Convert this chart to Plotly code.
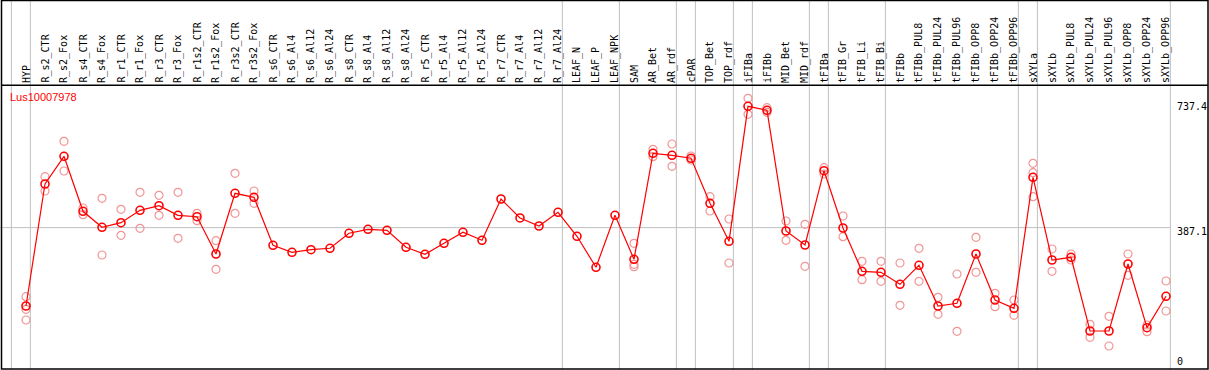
import plotly.graph_objects as go

W, H = 1209, 370

categories = ["HYP", "R_s2_CTR", "R_s2_Fox", "R_s4_CTR", "R_s4_Fox", "R_r1_CTR", "R_r1_Fox",
              "R_r3_CTR", "R_r3_Fox", "R_r1s2_CTR", "R_r1s2_Fox", "R_r3s2_CTR", "R_r3s2_Fox",
              "R_s6_CTR", "R_s6_Al4", "R_s6_Al12", "R_s6_Al24", "R_s8_CTR", "R_s8_Al4",
              "R_s8_Al12", "R_s8_Al24", "R_r5_CTR", "R_r5_Al4", "R_r5_Al12", "R_r5_Al24",
              "R_r7_CTR", "R_r7_Al4", "R_r7_Al12", "R_r7_Al24", "LEAF_N", "LEAF_P", "LEAF_NPK",
              "SAM", "AR_Bet", "AR_rdf", "cPAR", "TOP_Bet", "TOP_rdf", "iFIBa", "iFIBb",
              "MID_Bet", "MID_rdf", "tFIBa", "tFIB_Gr", "tFIB_Li", "tFIB_Bi", "tFIBb",
              "tFIBb_PUL8", "tFIBb_PUL24", "tFIBb_PUL96", "tFIBb_OPP8", "tFIBb_OPP24",
              "tFIBb_OPP96", "sXYLa", "sXYLb", "sXYLb_PUL8", "sXYLb_PUL24", "sXYLb_PUL96",
              "sXYLb_OPP8", "sXYLb_OPP24", "sXYLb_OPP96"]

mean_values = [172.9, 506.2, 581.9, 431.7, 387.9, 400.5, 434.4, 447.0, 420.7, 416.9, 315.0,
               480.8, 469.9, 338.8, 319.6, 326.7, 330.6, 371.6, 382.5, 379.7, 333.3, 314.2,
               344.2, 374.3, 352.4, 465.3, 413.4, 391.5, 428.9, 363.4, 278.7, 420.7,
               300.5, 590.1, 584.6, 576.5, 453.5, 349.7, 718.5, 707.6, 377.8, 339.6, 542.6,
               386.0, 267.7, 265.0, 232.2, 284.1, 172.9, 180.3, 315.0, 189.3, 166.7,
               524.5, 298.6, 306.0, 104.6, 104.6, 287.7, 113.7, 199.4]

rep_a = [198.3, 526.2, 622.9, 440.7, 467.2, 437.1, 483.6, 475.4, 483.6, 426.2, 351.3,
         535.5, 487.1, None, None, None, None, None, None, None, None, None,
         None, None, None, None, None, None, None, None, None, None,
         344.2, 601.0, 615.5, 582.7, 471.5, 410.6, 740.4, 714.7, 405.2, 396.1, 550.8,
         418.8, 295.1, 295.1, 290.4, 330.6, 196.7, 260.4, 360.6, 207.6, 189.3,
         562.8, 328.7, 315.0, 122.9, 144.8, 315.0, 121.0, 241.2]

rep_b = [163.9, 487.1, 541.8, 422.4, 312.3, 366.1, 385.2, 420.7, 357.9, 406.0, 273.2,
         426.2, 453.5, None, None, None, None, None, None, None, None, None,
         None, None, None, None, None, None, None, None, None, None,
         286.9, 580.8, 554.6, 571.8, 432.5, 290.4, 696.7, 702.1, 352.4, 281.4, 533.6,
         362.3, 244.8, 240.4, 174.8, 240.4, 150.3, 103.8, 265.0, 171.0, 147.5,
         537.1, 267.7, 298.6, 87.4, 63.7, 256.8, 102.7, 159.3]

rep_c = [134.7, None, None, None, None, None, None, None, None, None, None,
         None, None, None, None, None, None, None, None, None, None, None,
         None, None, None, None, None, None, None, None, None, None,
         280.3, None, None, None, None, None, None, None, None, None, None,
         None, None, None, None, None, None, None, None, None, None,
         471.5, None, None, None, None, None, None, None]

separator_after = [-1, 0, 28, 31, 34, 35, 37, 38, 41, 42, 45, 52, 53, 60]
y_tick_values = [737.4, 387.1, 0]
y_tick_labels = ["737.4", "387.1", "0"]
gene_name = "Lus10007978"

# pixel geometry
X0, DX = 26.0, 19.0           # pixel x of first category, spacing
x_lo = (0 - X0) / DX
x_hi = (W - X0) / DX
Y_ZERO_PX, PX_PER = 369.3, 1 / 2.732
y_lo = (Y_ZERO_PX - H) / PX_PER
y_hi = Y_ZERO_PX / PX_PER

xs = list(range(len(categories)))

fig = go.Figure()

rep_color = "rgb(240,150,150)"
for reps in (rep_a, rep_b, rep_c):
    fig.add_trace(go.Scatter(
        x=xs, y=reps, mode="markers",
        marker=dict(symbol="circle-open", size=8, color=rep_color, line=dict(width=1.2, color=rep_color)),
        showlegend=False, hoverinfo="skip"))

fig.add_trace(go.Scatter(
    x=xs, y=mean_values, mode="lines+markers",
    line=dict(color="rgb(255,0,0)", width=1.2),
    marker=dict(symbol="circle-open", size=8, color="rgb(255,0,0)", line=dict(width=1.6, color="rgb(255,0,0)")),
    showlegend=False, hoverinfo="skip"))

shapes = []
gray = "rgb(192,192,192)"
for s in separator_after:
    shapes.append(dict(type="line", xref="x", yref="paper", x0=s + 0.23, x1=s + 0.23, y0=0, y1=1,
                       line=dict(color=gray, width=1), layer="below"))
shapes.append(dict(type="line", xref="x", yref="y", x0=x_lo, x1=separator_after[-1] + 0.23,
                   y0=y_tick_values[1], y1=y_tick_values[1], line=dict(color=gray, width=1), layer="below"))

def py(p):
    return 1 - p / H

def px(p):
    return p / W

black = "black"
# frame
shapes.append(dict(type="rect", xref="paper", yref="paper", x0=px(1.5), x1=px(1208), y0=py(369), y1=py(0.5),
                   line=dict(color=black, width=1.5)))
shapes.append(dict(type="line", xref="paper", yref="paper", x0=px(1.5), x1=px(1208), y0=py(85.3), y1=py(85.3),
                   line=dict(color=black, width=1.5)))

annotations = []
for i, c in enumerate(categories):
    annotations.append(dict(x=i, y=py(84), xref="x", yref="paper", text=c, textangle=-90,
                            showarrow=False, xanchor="center", yanchor="bottom",
                            font=dict(family="DejaVu Sans Mono", size=10, color="black"),
                            borderpad=0))

label_centers = [106.7, 231.7, 361.7]
for lab, cy in zip(y_tick_labels, label_centers):
    annotations.append(dict(x=px(1175.5), y=py(cy), xref="paper", yref="paper", text=lab,
                            showarrow=False, xanchor="left", yanchor="middle",
                            font=dict(family="DejaVu Sans Mono", size=10, color="black"), borderpad=0))

annotations.append(dict(x=px(9), y=py(96.7), xref="paper", yref="paper", text=gene_name,
                        showarrow=False, xanchor="left", yanchor="middle",
                        font=dict(family="Liberation Sans", size=11, color="red"), borderpad=0))

fig.update_layout(
    width=W, height=H, margin=dict(l=0, r=0, t=0, b=0),
    paper_bgcolor="white", plot_bgcolor="white",
    xaxis=dict(range=[x_lo, x_hi], visible=False, fixedrange=True),
    yaxis=dict(range=[y_lo, y_hi], visible=False, fixedrange=True),
    shapes=shapes, annotations=annotations,
)

fig.write_html("out.html", config={"displayModeBar": False},
               post_script="document.body.style.margin='0px';document.body.style.overflow='hidden';")
